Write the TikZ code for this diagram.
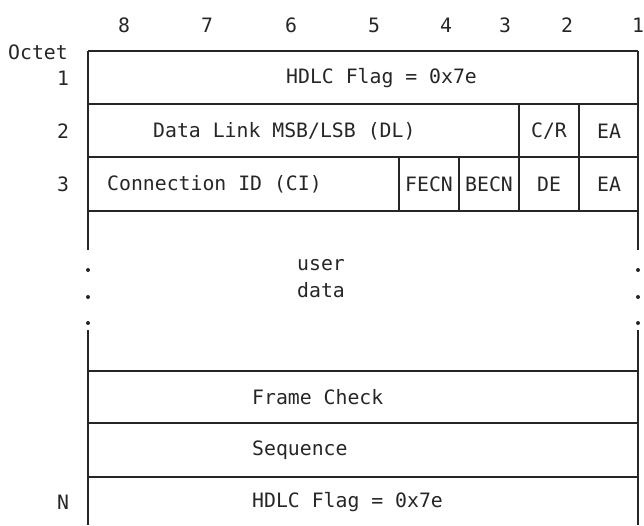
\documentclass[tikz,border=0pt]{standalone}
\usepackage{fontspec}
\setmonofont{DejaVu Sans Mono}
\definecolor{ink}{gray}{0.15}
\tikzset{
  lbl/.style={font=\ttfamily\fontsize{19.8}{27}\selectfont,text=ink,inner sep=0pt},
  rule/.style={draw=ink,line width=1.3pt}
}
\begin{document}
\begin{tikzpicture}[x=1pt,y=-1pt]
\useasboundingbox (0,0) rectangle (644,525);
% bit numbers
\foreach \b/\x in {8/124,7/207,6/291,5/374,4/446,3/505,2/567,1/638}
  \node[lbl] (bit\b) at (\x,25) {\b};
% octet column
\node[lbl,anchor=east] (octet) at (68,52) {Octet};
\foreach \o/\y in {1/78,2/131,3/184,N/502}
  \node[lbl] (oct\o) at (63,\y) {\o};
% frame outline
\draw[rule] (88,51) -- (638,51);
\draw[rule] (88,51) -- (88,250) (88,330) -- (88,525);
\draw[rule] (638,51) -- (638,250) (638,330) -- (638,525);
\foreach \y in {104,157,211,371,423,477}
  \draw[rule] (88,\y) -- (638,\y);
\foreach \x in {519,579}
  \draw[rule] (\x,104) -- (\x,157);
\foreach \x in {399,459,519,579}
  \draw[rule] (\x,157) -- (\x,211);
% dots for the open part
\foreach \x in {88,638}
  \foreach \y in {270,297,323}
    \fill[ink] (\x,\y) circle (2pt);
% fields
\node[lbl,anchor=west] (flag1) at (286,78) {HDLC Flag = 0x7e};
\node[lbl,anchor=west] (dlci) at (153,131) {Data Link MSB/LSB (DL)};
\node[lbl] (cr) at (549,131) {C/R};
\node[lbl] (ea2) at (609,131) {EA};
\node[lbl,anchor=west] (cid) at (107,184) {Connection ID (CI)};
\node[lbl] (fecn) at (429,184) {FECN};
\node[lbl] (becn) at (489,184) {BECN};
\node[lbl] (de) at (549,184) {DE};
\node[lbl] (ea3) at (609,184) {EA};
\node[lbl,anchor=west,align=left] (udata) at (297,279) {user\\data};
\node[lbl,anchor=west] (fcs1) at (252,397) {Frame Check};
\node[lbl,anchor=west] (fcs2) at (252,450) {Sequence};
\node[lbl,anchor=west] (flagN) at (252,502) {HDLC Flag = 0x7e};
\end{tikzpicture}
\end{document}
